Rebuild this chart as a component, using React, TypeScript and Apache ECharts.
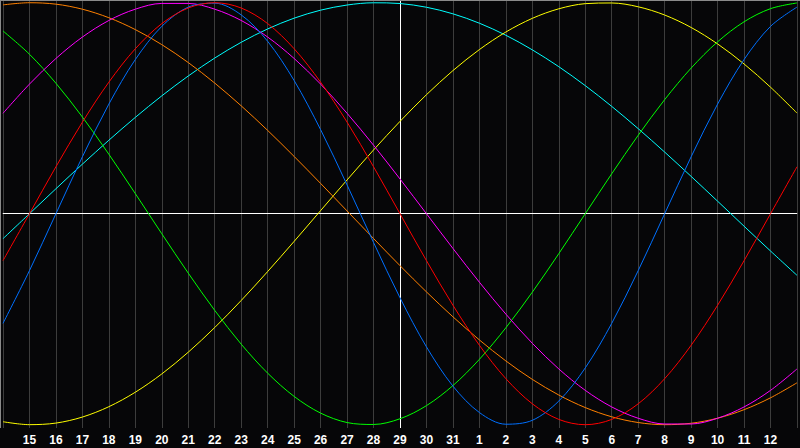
import React, { useEffect, useRef } from "react";
import * as echarts from "echarts";

// Tick labels (day of month) for day index 0..30
const dayLabels = [
  "14", "15", "16", "17", "18", "19", "20", "21", "22", "23", "24", "25", "26", "27", "28", "29", "30", "31",
  "1", "2", "3", "4", "5", "6", "7", "8", "9", "10", "11", "12", "13",
];
const todayIndex = 15;

// Physical (23 days) - blue
const physical = [
  -0.5196, -0.2698, 0, 0.2698, 0.5196, 0.7308, 0.8879, 0.9791, 0.9977, 0.9423, 0.817, 0.6311, 0.3984, 0.1362,
  -0.1362, -0.3984, -0.6311, -0.817, -0.9423, -0.9977, -0.9791, -0.8879, -0.7308, -0.5196, -0.2698, 0, 0.2698,
  0.5196, 0.7308, 0.8879, 0.9791,
];
// Emotional (28 days) - red
const emotional = [
  -0.2225, 0, 0.2225, 0.4339, 0.6235, 0.7818, 0.901, 0.9749, 1, 0.9749, 0.901, 0.7818, 0.6235, 0.4339, 0.2225, 0,
  -0.2225, -0.4339, -0.6235, -0.7818, -0.901, -0.9749, -1, -0.9749, -0.901, -0.7818, -0.6235, -0.4339, -0.2225, 0,
  0.2225,
];
// Intellectual (33 days) - green
const intellectual = [
  0.866, 0.7557, 0.6182, 0.4582, 0.2817, 0.0951, -0.0951, -0.2817, -0.4582, -0.6182, -0.7557, -0.866, -0.945,
  -0.9898, -0.9989, -0.9718, -0.9096, -0.8146, -0.6901, -0.5406, -0.3717, -0.1893, 0, 0.1893, 0.3717, 0.5406,
  0.6901, 0.8146, 0.9096, 0.9718, 0.9989,
];
// Intuitive (38 days) - magenta
const intuitive = [
  0.4759, 0.6142, 0.7357, 0.8372, 0.9158, 0.9694, 0.9966, 0.9966, 0.9694, 0.9158, 0.8372, 0.7357, 0.6142, 0.4759,
  0.3247, 0.1646, 0, -0.1646, -0.3247, -0.4759, -0.6142, -0.7357, -0.8372, -0.9158, -0.9694, -0.9966, -0.9966,
  -0.9694, -0.9158, -0.8372, -0.7357,
];
// Aesthetic (43 days) - yellow
const aesthetic = [
  -0.9859, -0.9998, -0.9923, -0.9637, -0.9146, -0.846, -0.7593, -0.6563, -0.5395, -0.4112, -0.2741, -0.1311, 0.0146,
  0.16, 0.302, 0.4376, 0.564, 0.6782, 0.7779, 0.861, 0.9259, 0.9711, 0.9955, 0.9987, 0.9806, 0.9416, 0.8826, 0.8046,
  0.7096, 0.5995, 0.4768,
];
// Awareness (48 days) - orange
const awareness = [
  0.9897, 0.9999, 0.9931, 0.9692, 0.9288, 0.8725, 0.8013, 0.7163, 0.6191, 0.5113, 0.3947, 0.2714, 0.1435, 0.0131,
  -0.1175, -0.2462, -0.3706, -0.4886, -0.5983, -0.6978, -0.7853, -0.8594, -0.9188, -0.9625, -0.9897, -0.9999,
  -0.9931, -0.9692, -0.9288, -0.8725, -0.8013,
];
// Spiritual (53 days) - cyan
const spiritual = [
  -0.1183, 0, 0.1183, 0.2349, 0.3482, 0.4566, 0.5586, 0.6527, 0.7377, 0.8124, 0.8757, 0.9267, 0.9646, 0.989, 0.9996,
  0.9961, 0.9785, 0.9473, 0.9028, 0.8457, 0.7765, 0.6967, 0.6069, 0.5086, 0.4031, 0.292, 0.1769, 0.0593, -0.0593,
  -0.1769, -0.292,
];

const seriesDefs = [
  { name: "Spiritual", values: spiritual, color: "#00ffff" },
  { name: "Aesthetic", values: aesthetic, color: "#ffff00" },
  { name: "Awareness", values: awareness, color: "#ff8000" },
  { name: "Intellectual", values: intellectual, color: "#00ff00" },
  { name: "Intuitive", values: intuitive, color: "#ff00ff" },
  { name: "Physical", values: physical, color: "#0070ff" },
  { name: "Emotional", values: emotional, color: "#ff0000" },
];

export default function App() {
  const ref = useRef<HTMLDivElement>(null);

  useEffect(() => {
    if (!ref.current) return;
    const chart = echarts.init(ref.current, undefined, { renderer: "svg" });

    const series: any[] = seriesDefs.map((s, si) => ({
      name: s.name,
      type: "line",
      data: s.values.map((v, i) => [i, v]),
      smooth: 0.33,
      symbol: "none",
      silent: true,
      lineStyle: { color: s.color, width: 1 },
      itemStyle: { color: s.color },
      z: 3,
      ...(si === 0
        ? {
            markLine: {
              silent: true,
              symbol: "none",
              label: { show: false },
              lineStyle: { color: "#ffffff", width: 1, type: "solid" },
              data: [{ xAxis: todayIndex }, { yAxis: 0 }],
              z: 1,
            },
          }
        : {}),
    }));

    chart.setOption({
      animation: false,
      backgroundColor: "#060608",
      grid: { left: 0, right: 0, top: 0, bottom: 20, containLabel: false },
      xAxis: {
        type: "value",
        min: 0,
        max: dayLabels.length - 1,
        interval: 1,
        axisLine: { show: true, lineStyle: { color: "#9a9a9a", width: 1 } },
        axisTick: { show: false },
        splitLine: { show: true, lineStyle: { color: "#3c3c3c", width: 1 } },
        axisLabel: {
          show: true,
          margin: 6,
          color: "#ffffff",
          fontFamily: "Liberation Sans",
          fontWeight: "bold",
          fontSize: 12,
          formatter: (val: number) => {
            const i = Math.round(val);
            if (i <= 0 || i >= dayLabels.length - 1) return "";
            return dayLabels[i];
          },
        },
      },
      yAxis: {
        type: "value",
        min: -1.0156,
        max: 1.0128,
        axisLine: { show: false },
        axisTick: { show: false },
        axisLabel: { show: false },
        splitLine: { show: false },
      },
      graphic: [
        {
          type: "line",
          shape: { x1: 0, y1: 0.5, x2: 800, y2: 0.5 },
          style: { stroke: "#8a8a8a", lineWidth: 1 },
          silent: true,
          z: 10,
        },
        {
          type: "line",
          shape: { x1: 0.5, y1: 0, x2: 0.5, y2: 428 },
          style: { stroke: "#8a8a8a", lineWidth: 1 },
          silent: true,
          z: 10,
        },
      ],
      series,
    });

    return () => chart.dispose();
  }, []);

  return (
    <div
      ref={ref}
      style={{ position: "fixed", left: 0, top: 0, width: 800, height: 448, background: "#060608" }}
    />
  );
}
